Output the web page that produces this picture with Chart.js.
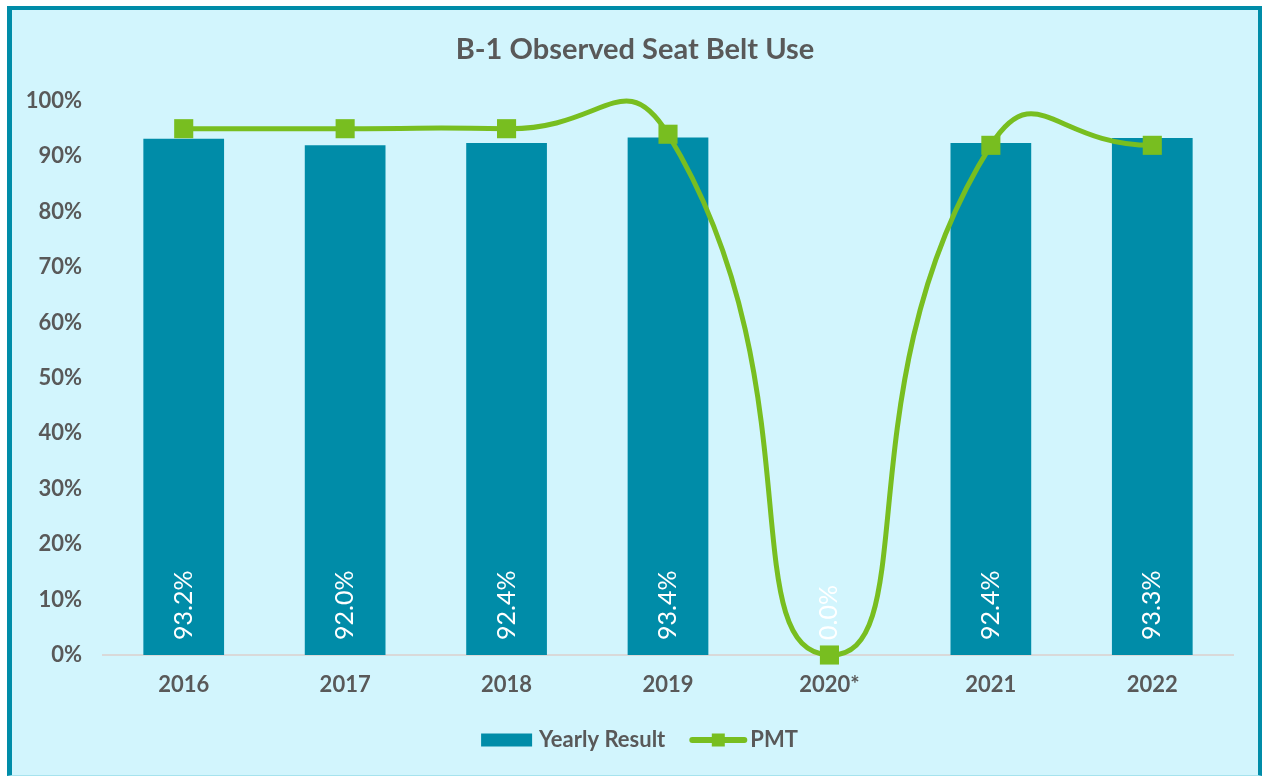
<!DOCTYPE html>
<html><head><meta charset="utf-8">
<script src="https://cdn.jsdelivr.net/npm/chart.js@4.4.1/dist/chart.umd.min.js"></script>
<style>
html,body{margin:0;padding:0;background:#fff;width:1262px;height:776px;overflow:hidden}
#frame{position:absolute;left:7px;top:6px;width:1255px;height:770px;box-sizing:border-box;border:4px solid #008ca8;border-left-width:5px;border-bottom:1px solid #a6e3ee;background:#d2f5fd}
#c{position:absolute;left:0;top:0}
</style></head><body>
<div id="frame"></div>
<canvas id="c" width="1262" height="776"></canvas>
<script>
const categories = ['2016', '2017', '2018', '2019', '2020*', '2021', '2022'];
const yearlyResult = [93.2, 92.0, 92.4, 93.4, 0.0, 92.4, 93.3];
const pmt = [95, 95, 95, 94, 0, 92, 92];
const yTickValues = [0, 10, 20, 30, 40, 50, 60, 70, 80, 90, 100];

const FONT = 'Lato, "Open Sans", sans-serif';
const GRAY = '#595959';
const TEAL = '#008ca8';
const GREEN = '#78be20';

const shiftTitle = {
  id: 'shiftTitle',
  afterLayout(chart) {
    if (chart.titleBlock) chart.titleBlock.left += 37;
  }
};

const barLabels = {
  id: 'barLabels',
  afterDatasetsDraw(chart) {
    const ctx = chart.ctx;
    const meta = chart.getDatasetMeta(1);
    const base = chart.scales.y.getPixelForValue(0);
    ctx.save();
    ctx.fillStyle = '#ffffff';
    ctx.font = '25px ' + FONT;
    ctx.textAlign = 'left';
    ctx.textBaseline = 'middle';
    meta.data.forEach((bar, i) => {
      ctx.save();
      ctx.translate(bar.x, base - 15);
      ctx.rotate(-Math.PI / 2);
      ctx.fillText(yearlyResult[i].toFixed(1) + '%', 0, 0);
      ctx.restore();
    });
    ctx.restore();
  }
};

const customLegend = {
  id: 'customLegend',
  afterDraw(chart) {
    const ctx = chart.ctx;
    const y = 740;
    ctx.save();
    ctx.font = 'bold 22px ' + FONT;
    ctx.textBaseline = 'middle';
    ctx.textAlign = 'left';
    const t1 = 'Yearly Result', t2 = 'PMT';
    const w1 = ctx.measureText(t1).width, w2 = ctx.measureText(t2).width;
    const total = 51 + 7 + w1 + 24 + 58 + 3 + w2;
    let x = 639.5 - total / 2;
    ctx.fillStyle = TEAL;
    ctx.fillRect(x, y - 6.5, 51, 13);
    x += 58;
    ctx.fillStyle = GRAY;
    ctx.fillText(t1, x, y);
    x += w1 + 24;
    ctx.strokeStyle = GREEN;
    ctx.lineWidth = 6;
    ctx.lineCap = 'round';
    ctx.beginPath();
    ctx.moveTo(x + 3, y);
    ctx.lineTo(x + 55, y);
    ctx.stroke();
    ctx.fillStyle = GREEN;
    ctx.fillRect(x + 29 - 6.5, y - 6.5, 13, 13);
    x += 61;
    ctx.fillStyle = GRAY;
    ctx.fillText(t2, x, y);
    ctx.restore();
  }
};

new Chart(document.getElementById('c'), {
  type: 'bar',
  data: {
    labels: categories,
    datasets: [
      {
        type: 'line',
        label: 'PMT',
        data: pmt,
        borderColor: GREEN,
        backgroundColor: GREEN,
        borderWidth: 5,
        tension: 0.6,
        capBezierPoints: false,
        pointStyle: 'rect',
        pointRadius: 13.5,
        pointBorderWidth: 0,
        pointBackgroundColor: GREEN,
        clip: false,
        order: 0
      },
      {
        type: 'bar',
        label: 'Yearly Result',
        data: yearlyResult,
        backgroundColor: TEAL,
        barPercentage: 0.5,
        categoryPercentage: 1,
        order: 1
      }
    ]
  },
  options: {
    responsive: false,
    animation: false,
    events: [],
    layout: { padding: { left: 0, right: 29, top: 0, bottom: 60.6 } },
    plugins: {
      legend: { display: false },
      tooltip: { enabled: false },
      title: {
        display: true,
        text: 'B-1 Observed Seat Belt Use',
        color: GRAY,
        font: { family: FONT, size: 29, weight: 'bold' },
        padding: { top: 32.6, bottom: 33.6 }
      }
    },
    scales: {
      x: {
        grid: { display: false, drawTicks: false },
        border: { display: true, color: '#d9d9d9', width: 2 },
        ticks: { color: GRAY, font: { family: FONT, size: 22, weight: 'bold' }, padding: 17 }
      },
      y: {
        min: 0,
        max: 100,
        grid: { display: false, drawTicks: false },
        border: { display: false },
        afterBuildTicks(s) { s.ticks = yTickValues.map(v => ({ value: v })); },
        ticks: {
          color: GRAY,
          font: { family: FONT, size: 22, weight: 'bold' },
          padding: 21,
          callback: v => v + '%'
        },
        afterFit(s) { s.width = 103; }
      }
    }
  },
  plugins: [shiftTitle, barLabels, customLegend]
});
</script>
</body></html>
